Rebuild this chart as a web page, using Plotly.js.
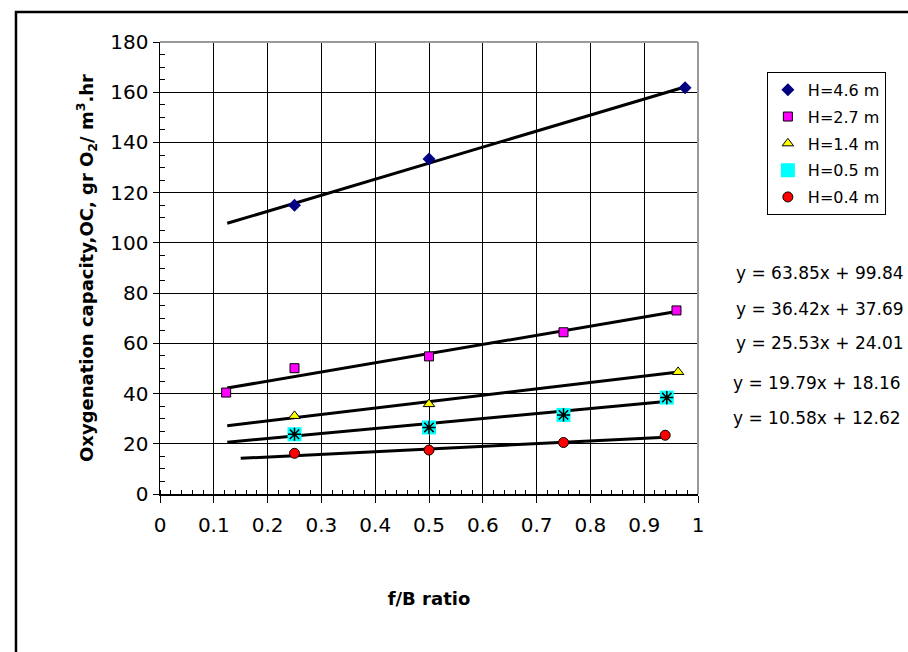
<!DOCTYPE html>
<html><head><meta charset="utf-8">
<script src="https://cdn.plot.ly/plotly-3.0.1.min.js"></script>
<style>html,body{margin:0;padding:0;background:#fff}#chart{width:908px;height:652px}</style>
</head><body><div id="chart"></div>
<script>
// Measured points (f/B ratio vs OC)
const fB_H46 = [0.25, 0.5, 0.976];
const OC_H46 = [115, 133.4, 161.8];
const fB_H27 = [0.123, 0.25, 0.5, 0.75, 0.96];
const OC_H27 = [40.4, 50.1, 54.8, 64.4, 73.1];
const fB_H14 = [0.25, 0.5, 0.963];
const OC_H14 = [31.1, 35.8, 48.6];
const fB_H05 = [0.25, 0.5, 0.75, 0.942];
const OC_H05 = [23.8, 26.5, 31.5, 38.4];
const fB_H04 = [0.25, 0.5, 0.75, 0.939];
const OC_H04 = [16.2, 17.5, 20.5, 23.4];

// Trend line end points
const fitX_H46 = [0.125, 0.98], fitY_H46 = [107.8, 162.4];
const fitX_H27 = [0.125, 0.96], fitY_H27 = [42.2, 72.7];
const fitX_H14 = [0.125, 0.96], fitY_H14 = [27.2, 48.5];
const fitX_H05 = [0.125, 0.94], fitY_H05 = [20.6, 36.8];
const fitX_H04 = [0.15, 0.94],  fitY_H04 = [14.2, 22.6];

const seriesNames = ['H=4.6 m', 'H=2.7 m', 'H=1.4 m', 'H=0.5 m', 'H=0.4 m'];
const equations = ['y = 63.85x + 99.84', 'y = 36.42x + 37.69', 'y = 25.53x + 24.01', 'y = 19.79x + 18.16', 'y = 10.58x + 12.62'];
const xTicks = [0, 0.1, 0.2, 0.3, 0.4, 0.5, 0.6, 0.7, 0.8, 0.9, 1];
const yTicks = [0, 20, 40, 60, 80, 100, 120, 140, 160, 180];

const FONT = 'DejaVu Sans, Verdana, sans-serif';

const fitLine = (x, y) => ({x, y, type: 'scatter', mode: 'lines', showlegend: false,
  line: {color: '#000', width: 3}, hoverinfo: 'skip'});

const data = [
  fitLine(fitX_H46, fitY_H46), fitLine(fitX_H27, fitY_H27), fitLine(fitX_H14, fitY_H14),
  fitLine(fitX_H05, fitY_H05), fitLine(fitX_H04, fitY_H04),
  {x: fB_H46, y: OC_H46, name: seriesNames[0], legendgroup: 'a', type: 'scatter', mode: 'markers',
   marker: {symbol: 'diamond', size: 10, color: '#000080', line: {width: 0}}},
  {x: fB_H27, y: OC_H27, name: seriesNames[1], legendgroup: 'b', type: 'scatter', mode: 'markers',
   marker: {symbol: 'square', size: 9, color: '#FF00FF', line: {color: '#000', width: 1}}},
  {x: fB_H14, y: OC_H14, name: seriesNames[2], legendgroup: 'c', type: 'scatter', mode: 'markers',
   marker: {symbol: 'triangle-up', size: 10, color: '#FFFF00', line: {color: '#000', width: 1}}},
  {x: fB_H05, y: OC_H05, name: seriesNames[3], legendgroup: 'd', type: 'scatter', mode: 'markers',
   marker: {symbol: 'square', size: 14, color: '#00FFFF', line: {width: 0}}},
  {x: fB_H05, y: OC_H05, name: seriesNames[3], legendgroup: 'd', showlegend: false, type: 'scatter', mode: 'markers',
   marker: {symbol: 'asterisk-open', size: 11, color: '#000', line: {color: '#000', width: 1.5}}},
  {x: fB_H04, y: OC_H04, name: seriesNames[4], legendgroup: 'e', type: 'scatter', mode: 'markers',
   marker: {symbol: 'circle', size: 10, color: '#FF0000', line: {color: '#000', width: 1}}}
];

const eqY = [0.489, 0.409, 0.334, 0.246, 0.168];
const eqX = [1.066, 1.066, 1.066, 1.062, 1.062];
const annotations = equations.map((t, i) => ({text: t, xref: 'paper', yref: 'paper', x: eqX[i], y: eqY[i],
  xanchor: 'left', yanchor: 'middle', showarrow: false, font: {family: FONT, size: 17, color: '#000'}}));

const layout = {
  width: 908, height: 652,
  margin: {l: 160, r: 210, t: 42, b: 158},
  paper_bgcolor: '#fff', plot_bgcolor: '#fff',
  font: {family: FONT, color: '#000'},
  showlegend: true,
  legend: {x: 1.128, y: 0.934, xanchor: 'left', yanchor: 'top', bordercolor: '#000', borderwidth: 1,
    font: {size: 16, family: FONT}, tracegroupgap: 3, traceorder: 'grouped', bgcolor: '#fff'},
  xaxis: {range: [0, 1], tickvals: xTicks, ticktext: xTicks.map(String), showgrid: true, gridcolor: '#000', gridwidth: 1,
    zeroline: false, showline: true, linecolor: '#000', linewidth: 1.5, ticks: 'outside', ticklen: 7, tickcolor: '#000',
    tickfont: {size: 20}, ticklabelstandoff: 5,
    minor: {dtick: 0.02, ticks: 'inside', ticklen: 4, tickcolor: '#000', showgrid: false},
    title: {text: '<b>f/B ratio</b>', font: {size: 18}, standoff: 57}},
  yaxis: {range: [0, 180], tickvals: yTicks, ticktext: yTicks.map(String), showgrid: true, gridcolor: '#000', gridwidth: 1,
    zeroline: false, showline: true, linecolor: '#000', linewidth: 1.5, ticks: 'outside', ticklen: 6, tickcolor: '#000',
    tickfont: {size: 20}, minor: {dtick: 5, ticks: 'inside', ticklen: 5, tickcolor: '#000', showgrid: false},
    title: {text: '<b>Oxygenation capacity,OC, gr O<sub>2</sub>/ m<sup>3</sup>.hr</b>', font: {size: 18}, standoff: 12}},
  shapes: [
    {type: 'line', xref: 'paper', yref: 'paper', x0: 0, x1: 1, y0: 1, y1: 1, line: {color: '#999', width: 2}, layer: 'above'},
    {type: 'line', xref: 'paper', yref: 'paper', x0: 1, x1: 1, y0: 0, y1: 1, line: {color: '#999', width: 2}, layer: 'above'},
    {type: 'rect', xref: 'paper', yref: 'paper', x0: -0.2677, x1: 1.40, y0: -0.36, y1: 1.0664, line: {color: '#000', width: 2.5}, layer: 'above'}
  ],
  annotations
};

Plotly.newPlot('chart', data, layout, {staticPlot: true});
</script></body></html>
